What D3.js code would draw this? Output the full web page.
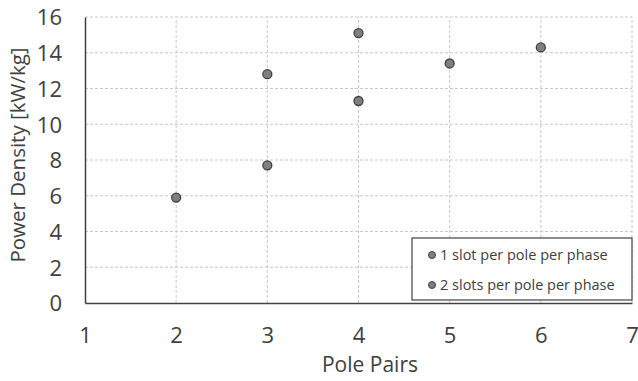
<!DOCTYPE html>
<html>
<head>
<meta charset="utf-8">
<script src="https://cdn.jsdelivr.net/npm/d3@7"></script>
<style>
  body { margin: 0; background: #fff; }
  svg { display: block; font-family: "Open Sans", "Noto Sans", sans-serif; }
</style>
</head>
<body>
<svg id="chart"></svg>
<script>
// data
const seriesNames = ['1 slot per pole per phase', '2 slots per pole per phase'];
const polePairs1 = [2, 3, 4];
const density1 = [5.9, 7.7, 11.3];
const polePairs2 = [3, 4, 5, 6];
const density2 = [12.8, 15.1, 13.4, 14.3];
const xTicks = [1, 2, 3, 4, 5, 6, 7];
const yTicks = [0, 2, 4, 6, 8, 10, 12, 14, 16];

const width = 638, height = 381;
const margin = { top: 17, right: 6, bottom: 78, left: 85 };

const svg = d3.select('#chart').attr('width', width).attr('height', height);

const x = d3.scaleLinear().domain([1, 7]).range([margin.left, width - margin.right]);
const y = d3.scaleLinear().domain([0, 16]).range([height - margin.bottom, margin.top]);

// gridlines
svg.append('g')
    .selectAll('line')
    .data(xTicks.slice(1))
    .enter()
    .append('line')
    .attr('x1', d => x(d)).attr('x2', d => x(d))
    .attr('y1', y(0)).attr('y2', y(16))
    .attr('stroke', '#c8c8c8')
    .attr('stroke-dasharray', '3,2');

svg.append('g')
    .selectAll('line')
    .data(yTicks.slice(1))
    .enter()
    .append('line')
    .attr('x1', x(1)).attr('x2', x(7))
    .attr('y1', d => y(d)).attr('y2', d => y(d))
    .attr('stroke', '#c8c8c8')
    .attr('stroke-dasharray', '3,2');

// axes
const xAxis = svg.append('g')
    .attr('transform', `translate(0,${y(0)})`)
    .call(d3.axisBottom(x).tickValues(xTicks).tickFormat(d3.format('d')).tickSize(0).tickPadding(24));
const yAxis = svg.append('g')
    .attr('transform', `translate(${x(1)},0)`)
    .call(d3.axisLeft(y).tickValues(yTicks).tickFormat(d3.format('d')).tickSize(0).tickPadding(23));

[xAxis, yAxis].forEach(ax => {
    ax.select('.domain').attr('stroke', '#404040').attr('stroke-width', 1.5);
    ax.selectAll('text')
        .attr('font-size', '22px')
        .attr('fill', '#404040')
        .attr('font-family', '"Open Sans", sans-serif');
});
yAxis.selectAll('text').attr('dy', '0.36em');

// axis titles
svg.append('text')
    .attr('x', 370)
    .attr('y', 372)
    .attr('text-anchor', 'middle')
    .attr('font-size', '21px')
    .attr('fill', '#404040')
    .text('Pole Pairs');

svg.append('text')
    .attr('transform', `translate(25,155) rotate(-90)`)
    .attr('text-anchor', 'middle')
    .attr('font-size', '20.5px')
    .attr('fill', '#404040')
    .text('Power Density [kW/kg]');

// points
const pts = polePairs1.map((p, i) => ({ x: p, y: density1[i] }))
    .concat(polePairs2.map((p, i) => ({ x: p, y: density2[i] })));

svg.append('g')
    .selectAll('circle')
    .data(pts)
    .enter()
    .append('circle')
    .attr('cx', d => x(d.x))
    .attr('cy', d => y(d.y))
    .attr('r', 4.5)
    .attr('fill', '#7f7f7f')
    .attr('stroke', '#404040')
    .attr('stroke-width', 1.3);

// legend
const lg = svg.append('g').attr('transform', 'translate(412,238)');
lg.append('rect')
    .attr('width', 220)
    .attr('height', 62)
    .attr('fill', '#fff')
    .attr('stroke', '#404040')
    .attr('stroke-width', 1.2);

seriesNames.forEach((name, i) => {
    const row = lg.append('g').attr('transform', `translate(0,${17 + i * 30})`);
    row.append('circle')
        .attr('cx', 20).attr('cy', 0).attr('r', 3.5)
        .attr('fill', '#7f7f7f')
        .attr('stroke', '#404040')
        .attr('stroke-width', 1);
    row.append('text')
        .attr('x', 28).attr('y', 0).attr('dy', '0.36em')
        .attr('font-size', '14.5px')
        .attr('fill', '#404040')
        .text(name);
});
</script>
</body>
</html>
